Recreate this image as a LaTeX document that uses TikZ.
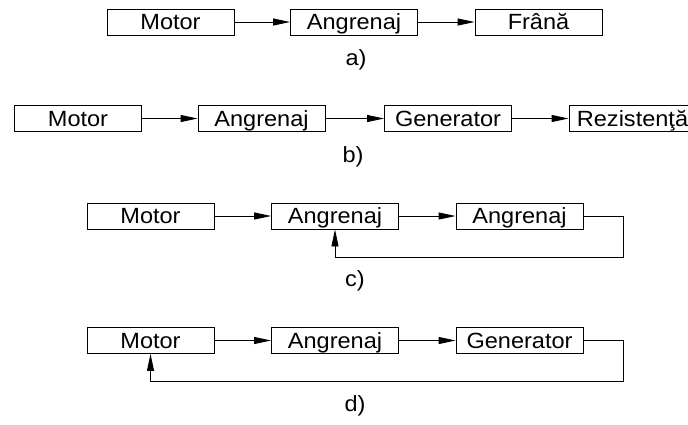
\documentclass[tikz,border=0pt]{standalone}
\usepackage{fontspec}
\setmainfont{Liberation Sans}[FakeStretch=1.07]
\usetikzlibrary{arrows.meta}
\tikzset{
  box/.style={draw, line width=0.9bp, minimum width=127bp, minimum height=26bp, inner sep=0pt, text height=15.5bp, text depth=0pt, font=\fontsize{22bp}{24bp}\selectfont},
  lab/.style={font=\fontsize{22bp}{24bp}\selectfont, inner sep=0pt},
  arr/.style={line width=0.9bp, -{Triangle[length=17bp,width=7bp]}},
  ln/.style={line width=0.9bp}
}
\begin{document}
\begin{tikzpicture}[x=1bp,y=-1bp]
\useasboundingbox (0,0) rectangle (688,424);
\begin{scope}
\clip (0,0) rectangle (688,424);
% a)
\node[box] (a1) at (170.5,22) {Motor};
\node[box] (a2) at (354,22) {Angrenaj};
\node[box] (a3) at (538.5,22) {Frână};
\draw[arr] (a1) -- (a2);
\draw[arr] (a2) -- (a3);
\node[lab] (la) at (356,60) {a)};
% b)
\node[box] (b1) at (78,118.5) {Motor};
\node[box] (b2) at (261.5,118.5) {Angrenaj};
\node[box] (b3) at (448,118.5) {Generator};
\node[box] (b4) at (632.5,118.5) {Rezistenţă};
\draw[arr] (b1) -- (b2);
\draw[arr] (b2) -- (b3);
\draw[arr] (b3) -- (b4);
\node[lab] (lb) at (353,157) {b)};
% c)
\node[box] (c1) at (150.5,216) {Motor};
\node[box] (c2) at (335,216) {Angrenaj};
\node[box] (c3) at (519.5,216) {Angrenaj};
\draw[arr] (c1) -- (c2);
\draw[arr] (c2) -- (c3);
\coordinate (cr) at (623,257);
\draw[arr] (c3.east) -| (cr) -| (c2.south);
\node[lab] (lc) at (355,281) {c)};
% d)
\node[box] (d1) at (150.5,340.5) {Motor};
\node[box] (d2) at (335,340.5) {Angrenaj};
\node[box] (d3) at (519.5,340.5) {Generator};
\draw[arr] (d1) -- (d2);
\draw[arr] (d2) -- (d3);
\coordinate (dr) at (623,381);
\draw[arr] (d3.east) -| (dr) -| (d1.south);
\node[lab] (ld) at (355,406) {d)};
\end{scope}
\end{tikzpicture}
\end{document}
